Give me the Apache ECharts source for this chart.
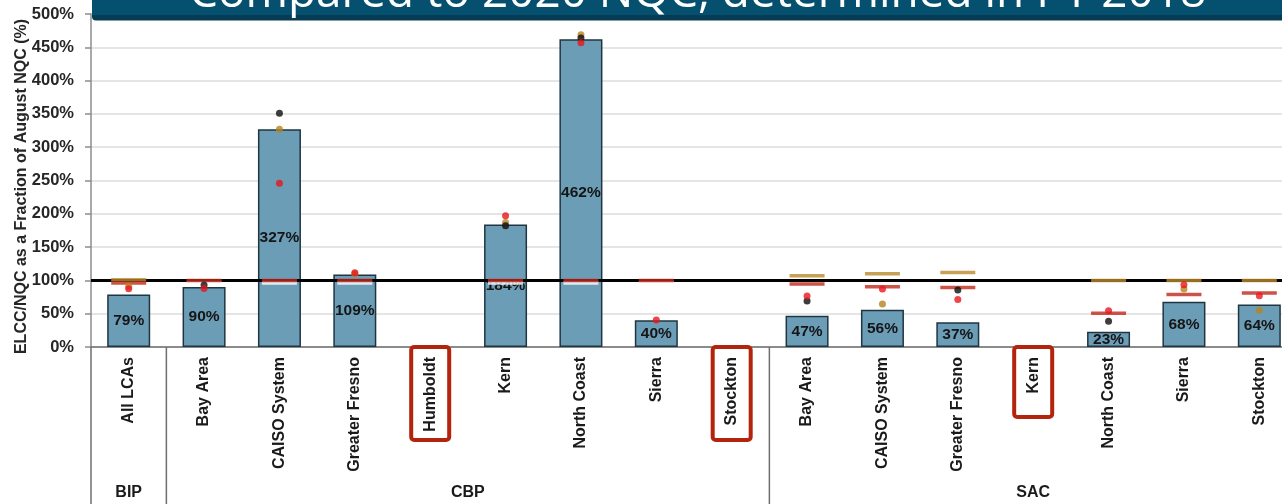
<!DOCTYPE html>
<html><head><meta charset="utf-8">
<script src="https://cdn.jsdelivr.net/npm/echarts@6/dist/echarts.min.js"></script>
<style>html,body{margin:0;padding:0;background:#fff;overflow:hidden}#c{width:1282px;height:504px}</style>
</head><body><div id="c"></div>
<script>
// ---- data ----
const categories = ['All LCAs','Bay Area','CAISO System','Greater Fresno','Humboldt','Kern','North Coast','Sierra','Stockton',
                    'Bay Area','CAISO System','Greater Fresno','Kern','North Coast','Sierra','Stockton'];
const groupNames = ['BIP','CBP','SAC'];
const groupStart = [0, 1, 9];
const groupEnd   = [0, 8, 15];
const highlighted = [4, 8, 12];
const barValues = [79, 90, 327, 109, null, 184, 462, 40, null, 47, 56, 37, null, 23, 68, 64];
const goldDash  = [101, null, null, null, null, null, null, null, null, 107, 110, 112, null, 100, 100, 100];
const redDash   = [96, 100, 100, 100, null, 100, 100, 100, null, 94.5, 90.5, 89.5, null, 50.5, 79, 81];
const goldDot   = [91, null, 327, 110, null, 187, 469, null, null, null, 64.5, null, null, null, 87, 55];
const blackDot  = [null, 93, 351, null, null, 182, 464, null, null, 69, null, 85.5, null, 38.5, null, null];
const redDot    = [87.5, 88, 246, 111.5, null, 197, 457, 40.5, null, 76.5, 87, 71.5, null, 54.5, 93.5, 77];
const referenceLevel = 100;
const titleText = 'Compared to 2020 NQC, determined in PY 2018';
const yAxisTitle = 'ELCC/NQC as a Fraction of August NQC (%)';

// ---- chart ----
const FONT = '"Liberation Sans", Arial, sans-serif';
const chart = echarts.init(document.getElementById('c'), null, {renderer: 'canvas'});
const toData = arr => arr.map(v => (v === null ? '-' : v));

function dotSeries(name, data, color, z) {
  return {name, type: 'scatter', data: toData(data), symbol: 'circle', symbolSize: 7,
    itemStyle: {color}, z, silent: true};
}
function dashSeries(name, data, color, z, extra) {
  return {name, type: 'scatter', data: toData(data), symbol: 'rect', symbolSize: [35, 3.5],
    itemStyle: Object.assign({color}, extra || {}), z, silent: true};
}

chart.setOption({
  animation: false,
  textStyle: {fontFamily: FONT},
  grid: {left: 91, top: 14, width: 1206, height: 333, containLabel: false, outerBoundsMode: 'none'},
  xAxis: {
    type: 'category', data: categories,
    axisLine: {lineStyle: {color: '#6e6e6e', width: 1.5}},
    axisTick: {show: false},
    axisLabel: {interval: 0, rotate: 90, margin: 10, fontSize: 16, fontWeight: 'bold', color: '#1a1a1a', fontFamily: FONT},
    splitLine: {show: false}
  },
  yAxis: {
    type: 'value', min: 0, max: 500, interval: 50,
    axisLine: {show: true, lineStyle: {color: '#8c8c8c', width: 1.5}},
    axisTick: {show: true, length: 6, lineStyle: {color: '#8c8c8c', width: 1.5}},
    axisLabel: {formatter: '{value}%', margin: 17, fontSize: 16.5, fontWeight: 'bold', color: '#262626', fontFamily: FONT},
    splitLine: {lineStyle: {color: '#dcdcdc', width: 1.5}},
    name: yAxisTitle, nameLocation: 'middle', nameGap: 61, nameMoveOverlap: false,
    nameTextStyle: {fontSize: 16, fontWeight: 'bold', color: '#262626', fontFamily: FONT, padding: [0, 12, 0, 0]}
  },
  series: [
    {
      type: 'bar', data: toData(barValues), barWidth: 43, z: 2,
      itemStyle: {color: '#6c9db7', borderColor: '#1f3642', borderWidth: 1.5},
      label: {show: true, position: 'inside', formatter: p => p.value + '%',
        fontSize: 15.5, fontWeight: 'bold', color: '#151515', fontFamily: FONT},
      markLine: {silent: true, z: 3, symbol: 'none', label: {show: false},
        lineStyle: {color: '#000', width: 3, type: 'solid'},
        data: [{yAxis: referenceLevel}]}
    },
    dashSeries('goldDash', goldDash, '#b98a2b', 8),
    dashSeries('redDash', redDash, '#c0281c', 8, {shadowColor: '#ffffff', shadowOffsetY: 2.5, shadowBlur: 0.01}),
    dotSeries('goldDot', goldDot, '#b4851f', 9),
    dotSeries('blackDot', blackDot, '#0d0d0d', 10),
    dotSeries('redDot', redDot, '#e8161d', 11)
  ]
});

// ---- decorations computed from the axes ----
const px = i => chart.convertToPixel({xAxisIndex: 0}, i);
const py = v => chart.convertToPixel({yAxisIndex: 0}, v);
const step = px(1) - px(0);
const boundary = i => px(i) - step / 2;
const axisY = py(0);
const H = 504;
const graphics = [];

groupStart.forEach((s, g) => {
  graphics.push({type: 'line', silent: true, z: 50,
    shape: {x1: boundary(s), y1: axisY, x2: boundary(s), y2: H},
    style: {stroke: '#6e6e6e', lineWidth: 1.5}});
  graphics.push({type: 'text', silent: true, z: 50,
    x: (boundary(s) + boundary(groupEnd[g] + 1)) / 2, y: 493,
    style: {text: groupNames[g], font: 'bold 16px ' + FONT, fill: '#1a1a1a', align: 'center', verticalAlign: 'middle'}});
});

const boxH = {4: 93, 8: 93, 12: 70};
highlighted.forEach(i => {
  graphics.push({type: 'rect', silent: true, z: 60,
    shape: {x: px(i) - 19, y: axisY, width: 38, height: boxH[i] || 80, r: 3},
    style: {fill: 'none', stroke: '#b3240c', lineWidth: 4}});
});

// title banner (cut off at the top like the reference)
const meas = document.createElement('canvas').getContext('2d');
meas.font = '44px "Open Sans"';
const titleSize = 44 * 1018 / meas.measureText(titleText).width;
graphics.push({type: 'rect', silent: true, z: 80,
  shape: {x: 92, y: -10, width: 1200, height: 25.5}, style: {fill: '#05506e'}});
graphics.push({type: 'rect', silent: true, z: 80,
  shape: {x: 92, y: 15, width: 1200, height: 5.5, r: [0, 0, 0, 4]}, style: {fill: '#033c54'}});
graphics.push({type: 'text', silent: true, z: 81, x: 189, y: 10 - titleSize * 0.36,
  style: {text: titleText, font: titleSize.toFixed(1) + 'px "Open Sans"', fill: '#ffffff', align: 'left', verticalAlign: 'middle'}});

chart.setOption({graphic: graphics});
</script>
</body></html>
